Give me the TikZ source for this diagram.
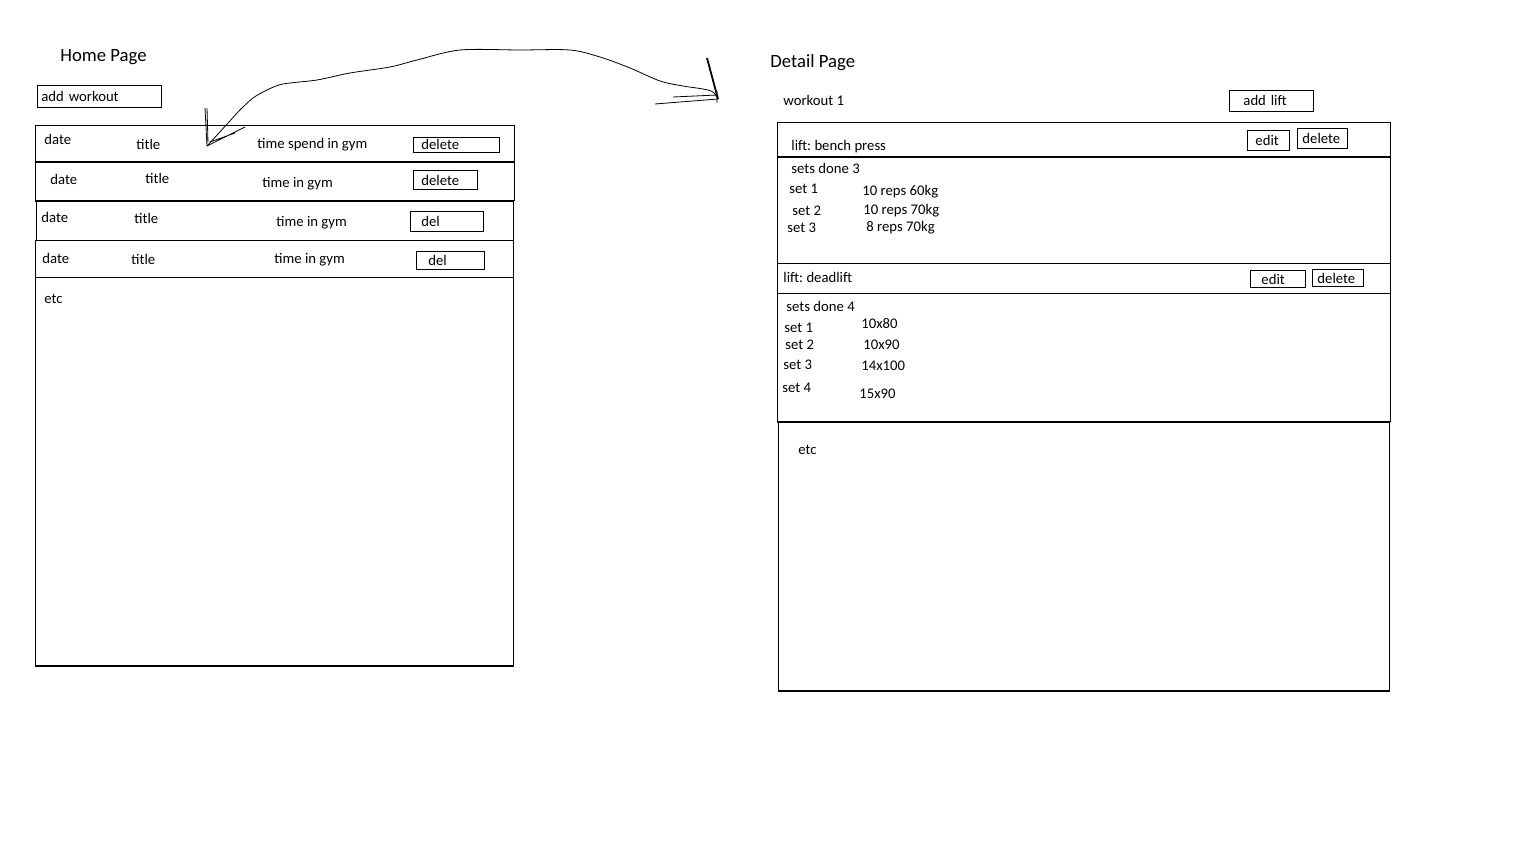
\documentclass[tikz,border=0pt]{standalone}
\usepackage{fontspec}
\setmainfont{Carlito}
\frenchspacing
\begin{document}
\begin{tikzpicture}[x=1pt, y=-1pt, line width=0.9pt,
	txt/.style={anchor=mid west, inner sep=0pt, yshift=-3pt, font=\fontsize{14.7}{16}\selectfont},
	head/.style={anchor=mid west, inner sep=0pt, yshift=-3pt, font=\fontsize{18.7}{21}\selectfont},
	btn/.style={draw, anchor=north west, align=left, inner ysep=0pt, font=\fontsize{14.7}{16}\selectfont},
	sep/.style={line width=2pt}]
		\useasboundingbox (0,0) rectangle (1536,864);
		% home page
		\node[head] (home) at (60,56) {Home Page};
		\node[btn, inner xsep=4pt, text width=116pt, minimum height=22] (addwork) at (37,85) {add workout};
		\draw (35,125) rectangle (514,161.5);
		\draw (35,161.5) rectangle (514,200.5);
		\draw (36,201) rectangle (513,240);
		\draw (35,240.5) rectangle (513,277);
		\draw (35,277) rectangle (513,666);
		\draw[sep] (35,161.5) -- (514,161.5);
		\draw[sep] (35,200.5) -- (514,200.5);
		\draw[sep] (35,666) -- (513,666);
		\node[txt] (date1) at (44,139) {date};
		\node[txt] (title1) at (136,144) {title};
		\node[txt] (time1) at (257,143) {time spend in gym};
		\node[btn, inner xsep=8pt, text width=70pt, minimum height=15] (del1) at (413,137) {delete};
		\node[txt] (date2) at (50,179) {date};
		\node[txt] (title2) at (145,178) {title};
		\node[txt] (time2) at (262,182) {time in gym};
		\node[btn, inner xsep=8pt, text width=48pt, minimum height=19] (del2) at (413,170) {delete};
		\node[txt] (date3) at (41,217) {date};
		\node[txt] (title3) at (134,218) {title};
		\node[txt] (time3) at (276,221) {time in gym};
		\node[btn, inner xsep=11pt, text width=51pt, minimum height=20] (del3) at (410,211) {del};
		\node[txt] (date4) at (42,258) {date};
		\node[txt] (title4) at (131,259) {title};
		\node[txt] (time4) at (274,258) {time in gym};
		\node[btn, inner xsep=12pt, text width=44pt, minimum height=18] (del4) at (416,251) {del};
		\node[txt] (etcL) at (44,298) {etc};
		% detail page
		\node[head] (detail) at (770,62) {Detail Page};
		\node[txt] (work) at (783,100) {workout 1};
		\node[btn, inner xsep=14pt, text width=56pt, minimum height=21] (addlift) at (1229,90) {add lift};
		\draw (777,122) rectangle (1390,156.5);
		\draw (777,156.5) rectangle (1390,263);
		\draw (777,263) rectangle (1390,293);
		\draw (777,293) rectangle (1390,421.5);
		\draw (778,421.5) rectangle (1389,691);
		\draw[sep] (777,156.5) -- (1390,156.5);
		\draw[sep] (777,421.5) -- (1390,421.5);
		\draw[sep] (778,691) -- (1389,691);
		\node[txt] (bench) at (791,145) {lift: bench press};
		\node[btn, inner xsep=8pt, text width=26pt, minimum height=20] (edit1) at (1247,130) {edit};
		\node[btn, inner xsep=5pt, text width=40pt, minimum height=20] (dell1) at (1297,128) {delete};
		\node[txt] (done1) at (791,168) {sets done 3};
		\node[txt] (s11) at (789,188) {set 1};
		\node[txt] (r11) at (862,190) {10 reps 60kg};
		\node[txt] (s12) at (792,210) {set 2};
		\node[txt] (r12) at (863,209) {10 reps 70kg};
		\node[txt] (s13) at (787,227) {set 3};
		\node[txt] (r13) at (866,226) {8 reps 70kg};
		\node[txt] (dead) at (783,277) {lift: deadlift};
		\node[btn, inner xsep=11pt, text width=33pt, minimum height=17] (edit2) at (1250,270) {edit};
		\node[btn, inner xsep=5pt, text width=41pt, minimum height=17] (dell2) at (1312,269) {delete};
		\node[txt] (done2) at (786,306) {sets done 4};
		\node[txt] (s21) at (784,327) {set 1};
		\node[txt] (r21) at (861,323) {10x80};
		\node[txt] (s22) at (785,344) {set 2};
		\node[txt] (r22) at (863,344) {10x90};
		\node[txt] (s23) at (783,364) {set 3};
		\node[txt] (r23) at (861,365) {14x100};
		\node[txt] (s24) at (782,387) {set 4};
		\node[txt] (r24) at (859,393) {15x90};
		\node[txt] (etcR) at (798,449) {etc};
		% hand drawn arrow
		\coordinate (tipL) at (207,146);
		\coordinate (tipR) at (718,99);
		\draw[line width=0.8pt] plot[smooth, tension=0.5] coordinates {(tipL) (218,134) (229,122) (240,110) (253,98) (267,90) (283,84) (317,80) (350,73) (390,67) (417,60) (460,50) (520,50) (570,50) (600,57) (630,68) (660,81) (683,86) (703,89) (713,92) (tipR)};
		\draw[line width=0.8pt] (tipL) -- ++(-2,-38) ++(2,0) -- ++(1,34);
		\draw[line width=0.8pt] (tipL) -- ++(38,-19) (tipL) ++(3,-4) -- ++(25,-9);
		\draw[line width=1.8pt] (tipR) -- ++(-11,-41);
		\draw[line width=0.8pt] (tipR) -- ++(-63,5) (tipR) ++(-1,-4) -- ++(-44,2) (tipR) ++(-1,-8) -- ++(0,12);
	\end{tikzpicture}
\end{document}
